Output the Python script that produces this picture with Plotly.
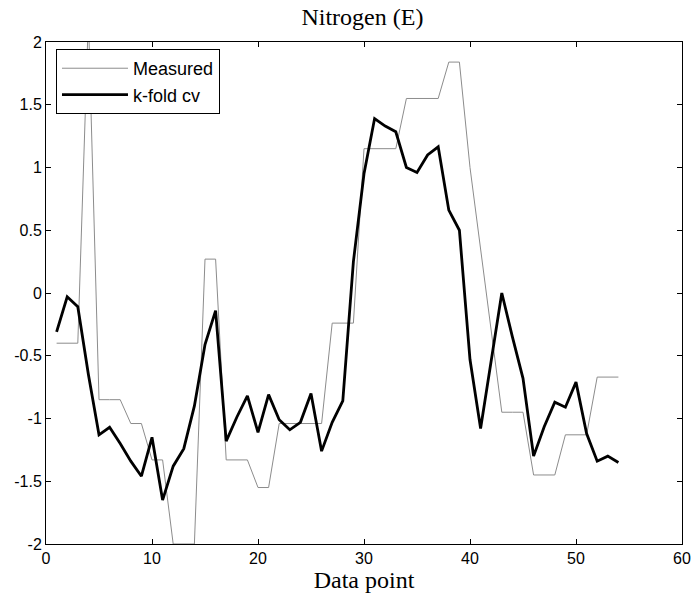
import plotly.graph_objects as go

x_points = list(range(1, 55))

measured = [-0.40, -0.40, -0.40, 2.20, -0.85, -0.85, -0.85, -1.04, -1.04, -1.33,
            -1.33, -2.00, -2.00, -2.00, 0.27, 0.27, -1.33, -1.33, -1.33, -1.55,
            -1.55, -1.04, -1.04, -1.04, -1.04, -1.04, -0.24, -0.24, -0.24, 1.15,
            1.15, 1.15, 1.15, 1.55, 1.55, 1.55, 1.55, 1.84, 1.84, 1.00,
            0.35, -0.30, -0.95, -0.95, -0.95, -1.45, -1.45, -1.45, -1.13, -1.13,
            -1.13, -0.67, -0.67, -0.67]

kfold_cv = [-0.31, -0.03, -0.11, -0.65, -1.13, -1.07, -1.20, -1.34, -1.46, -1.15,
            -1.65, -1.38, -1.24, -0.90, -0.41, -0.14, -1.18, -0.99, -0.82, -1.11,
            -0.81, -1.01, -1.09, -1.03, -0.80, -1.26, -1.03, -0.86, 0.25, 0.95,
            1.39, 1.33, 1.285, 1.00, 0.96, 1.10, 1.165, 0.66, 0.50, -0.53,
            -1.08, -0.54, 0.00, -0.35, -0.68, -1.30, -1.065, -0.87, -0.91, -0.71,
            -1.12, -1.34, -1.30, -1.35]

x_ticks = [0, 10, 20, 30, 40, 50, 60]
y_ticks = [-2, -1.5, -1, -0.5, 0, 0.5, 1, 1.5, 2]

fig = go.Figure()
fig.add_trace(go.Scatter(x=x_points, y=measured, mode="lines", name="Measured",
                         line=dict(color="#8c8c8c", width=1)))
fig.add_trace(go.Scatter(x=x_points, y=kfold_cv, mode="lines", name="k-fold cv",
                         line=dict(color="black", width=2.8)))

axis_common = dict(showgrid=False, zeroline=False, showline=True, linecolor="black",
                   linewidth=1, mirror="ticks", ticks="inside", ticklen=5,
                   tickcolor="black", tickwidth=1, automargin=False,
                   tickfont=dict(family="Liberation Sans, Arial", size=16, color="black"))

fig.update_layout(
    width=693, height=606,
    margin=dict(l=46, r=11, t=42, b=62),
    paper_bgcolor="white", plot_bgcolor="white",
    title=dict(text="Nitrogen (E)", x=0.523, xanchor="center", y=0.972, yanchor="middle",
               font=dict(family="Liberation Serif, Times New Roman", size=24, color="black")),
    xaxis=dict(range=[0, 60], tickvals=x_ticks, ticktext=[str(v) for v in x_ticks],
               title=dict(text="Data point", standoff=4,
                          font=dict(family="Liberation Serif, Times New Roman", size=24,
                                    color="black")),
               **axis_common),
    yaxis=dict(range=[-2, 2], tickvals=y_ticks, ticktext=[f"{v:g}" for v in y_ticks],
               **axis_common),
    showlegend=True,
    legend=dict(x=0.0157, y=0.986, xanchor="left", yanchor="top",
                bgcolor="white", bordercolor="black", borderwidth=1,
                font=dict(family="Liberation Sans, Arial", size=18, color="black"),
                itemwidth=66, tracegroupgap=0),
)

fig.write_html("out.html",
               config={"displayModeBar": False},
               post_script="document.body.style.margin='0';document.body.style.overflow='hidden';")
